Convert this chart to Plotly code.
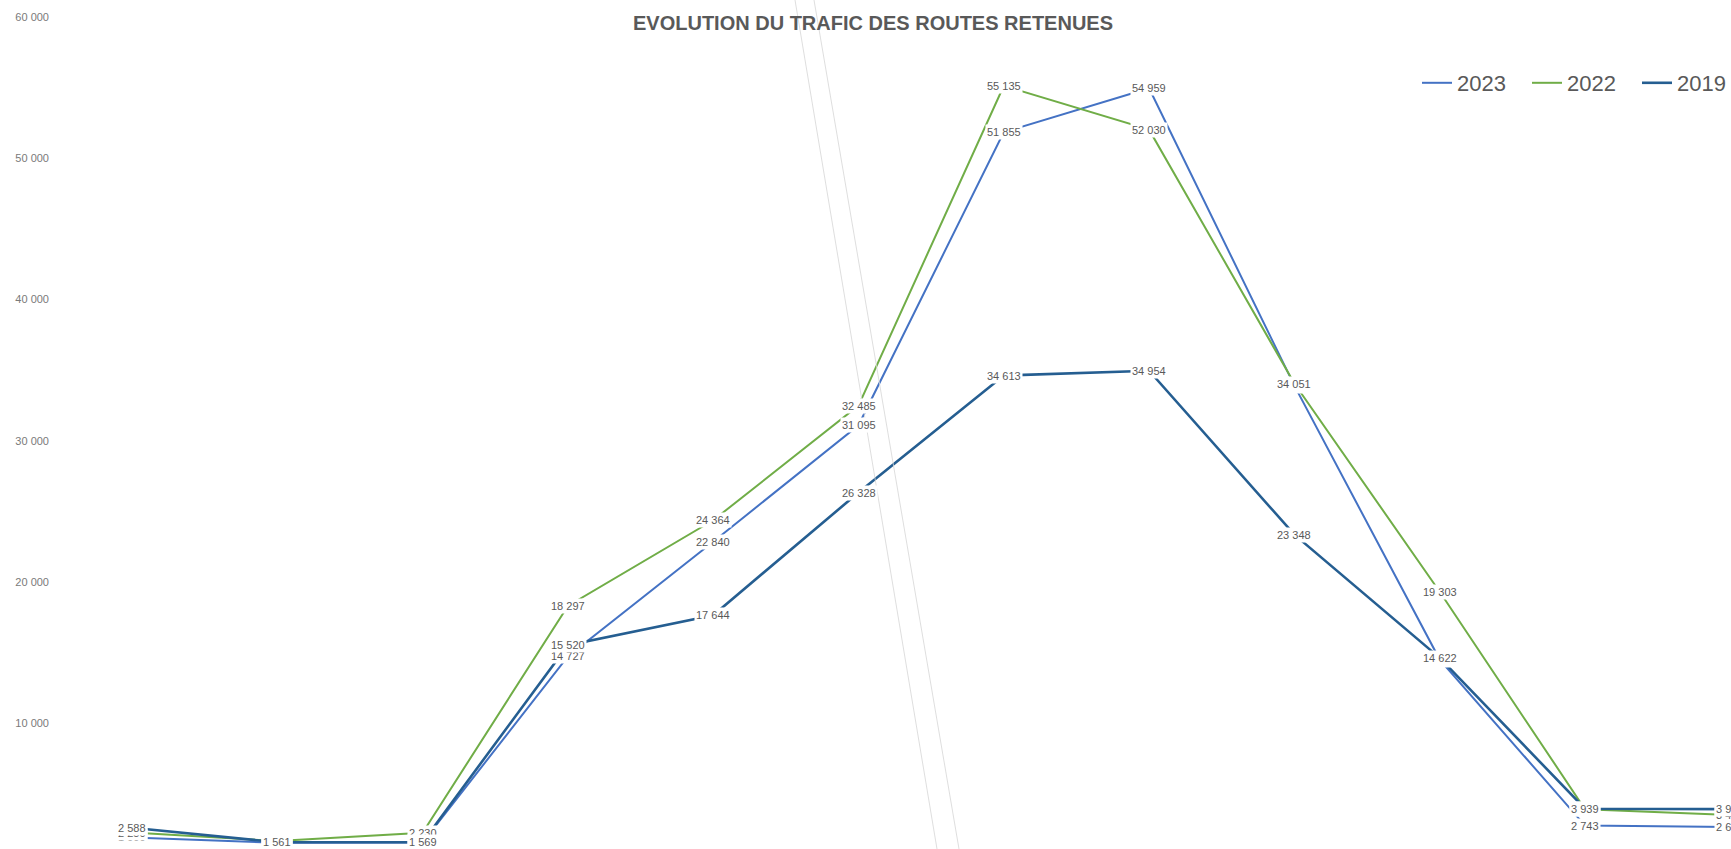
import plotly.graph_objects as go

months = ["Jan", "Fév", "Mar", "Avr", "Mai", "Juin", "Juil", "Août", "Sep", "Oct", "Nov", "Déc"]
series_names = ["2023", "2022", "2019"]
trafic_2023 = [1900, 1520, 1540, 14727, 22840, 31095, 51855, 54959, 33900, 14500, 2743, 2650]
trafic_2022 = [2250, 1650, 2230, 18297, 24364, 32485, 55135, 52030, 34051, 19303, 3900, 3490]
trafic_2019 = [2588, 1561, 1569, 15520, 17644, 26328, 34613, 34954, 23348, 14622, 3939, 3910]
y_ticks = [10000, 20000, 30000, 40000, 50000, 60000]

colors = {"2023": "#4472C4", "2022": "#70AD47", "2019": "#255E91"}
widths = {"2023": 2, "2022": 2, "2019": 2.6}
data = {"2023": trafic_2023, "2022": trafic_2022, "2019": trafic_2019}

W, H = 1731, 849
L_MARGIN = 50
PW = W - L_MARGIN


def px_to_paper(px):
    return (px - L_MARGIN) / PW


fig = go.Figure()
annotations = []
for name in series_names:
    vals = data[name]
    fig.add_trace(go.Scatter(
        x=months, y=vals, name=name, mode="lines",
        line=dict(color=colors[name], width=widths[name]),
    ))
    for m, v in zip(months, vals):
        annotations.append(dict(
            x=m, y=v, xref="x", yref="y", text=f"{v:,}".replace(",", " "),
            showarrow=False, bgcolor="white", borderpad=1,
            font=dict(family="Liberation Sans", size=11, color="#595959"),
        ))

step = 145.3
x_start = -(132 - L_MARGIN) / step
x_end = x_start + PW / step

fig.update_layout(
    width=W, height=H,
    margin=dict(l=L_MARGIN, r=0, t=0, b=0, autoexpand=False),
    paper_bgcolor="white", plot_bgcolor="white",
    separators=", ",
    title=dict(text="EVOLUTION DU TRAFIC DES ROUTES RETENUES", xref="container", yref="container",
               x=873 / W, xanchor="center", y=1 - 23 / H, yanchor="middle",
               font=dict(family="Liberation Sans", size=20, color="#595959", weight="bold")),
    xaxis=dict(type="category", range=[x_start, x_end], showticklabels=False, showgrid=False,
               zeroline=False, showline=False, ticks="", automargin=False),
    yaxis=dict(range=[1084, 61211], tickvals=y_ticks, tickformat=",d", showgrid=False, zeroline=False,
               showline=False, ticks="", automargin=False,
               tickfont=dict(family="Liberation Sans", size=11, color="#7a7a7a")),
    legend=dict(orientation="h", x=px_to_paper(1417), xanchor="left", y=1 - 83 / H, yanchor="middle",
                font=dict(family="Liberation Sans", size=22, color="#595959"), bgcolor="rgba(0,0,0,0)",
                entrywidth=65, itemwidth=30),
    annotations=annotations,
    shapes=[
        dict(type="line", xref="paper", yref="paper", x0=px_to_paper(795), y0=1,
             x1=px_to_paper(937), y1=0, line=dict(color="#d6d6d6", width=0.8)),
        dict(type="line", xref="paper", yref="paper", x0=px_to_paper(814), y0=1,
             x1=px_to_paper(959), y1=0, line=dict(color="#d6d6d6", width=0.8)),
    ],
)

fig.write_html("out.html", config={"displayModeBar": False},
               post_script="document.body.style.margin='0';")
